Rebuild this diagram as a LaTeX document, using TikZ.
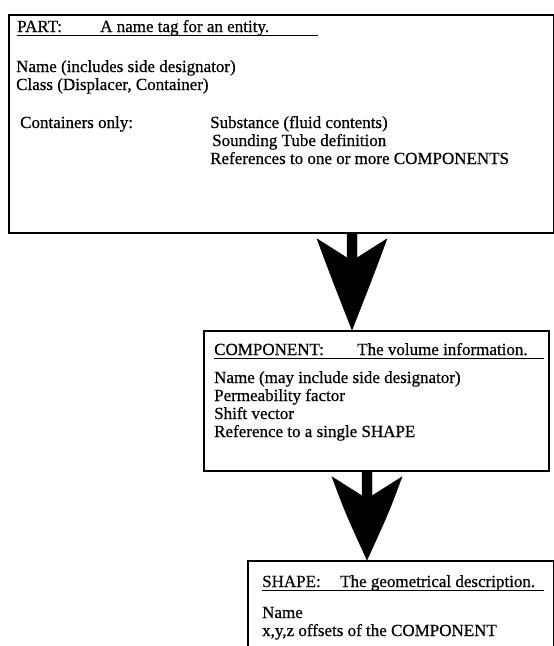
\documentclass[tikz,border=0pt]{standalone}
\usepackage{fontspec}
\setmainfont{Liberation Serif}
\newfontfamily\scanfont[FakeBold=0.6]{Liberation Serif}
\usetikzlibrary{calc}
\tikzset{
  box/.style={draw=black, line width=1.8pt, anchor=north west, inner sep=0pt},
  txt/.style={anchor=base west, inner sep=0pt, font=\scanfont\fontsize{17}{18}\selectfont},
  uline/.style={line width=0.9pt},
  dart/.style={fill=black, draw=black, line width=0.4pt, line join=miter},
}
% big dart-shaped connector: #1 = start on the upper box, #2 = tip on the lower box
\newcommand{\dartarrow}[2]{%
  \fill[dart] let \p1=(#1), \p2=(#2) in
    (\x1-5pt,\y1) -- (\x1-5pt,\y1-24pt) -- (\x1-35pt,\y1-5pt)
    .. controls (\x1-22pt,\y1-40pt) .. (\x2,\y2)
    .. controls (\x1+22pt,\y1-40pt) .. (\x1+35pt,\y1-5pt)
    -- (\x1+5pt,\y1-24pt) -- (\x1+5pt,\y1) -- cycle;}
\begin{document}
\begin{tikzpicture}[x=1pt,y=-1pt]
\useasboundingbox (0,0) rectangle (554,646);

% PART box
\node[box, minimum width=545pt, minimum height=218pt] (part) at (8,14) {};
\node[txt] (parthead) at (17,32) {PART:};
\node[txt] (parttag) at (100,32) {A name tag for an entity.};
\draw[uline] (17,35) -- (318,35);
\node[txt] (pname) at (16,72) {Name (includes side designator)};
\node[txt] (pclass) at (16,90) {Class (Displacer, Container)};
\node[txt] (pcont) at (20,128) {Containers only:};
\node[txt] (psub) at (210,128) {Substance (fluid contents)};
\node[txt] (psound) at (212,146) {Sounding Tube definition};
\node[txt] (pref) at (210,164) {References to one or more COMPONENTS};

% COMPONENT box
\node[box, minimum width=345pt, minimum height=140pt] (comp) at (203,330) {};
\node[txt] (comphead) at (214,355) {COMPONENT:};
\node[txt] (comptag) at (357,355) {The volume information.};
\draw[uline] (214,358) -- (544,358);
\node[txt] (cname) at (214,383) {Name (may include side designator)};
\node[txt] (cperm) at (214,401) {Permeability factor};
\node[txt] (cshift) at (214,419) {Shift vector};
\node[txt] (cref) at (214,437) {Reference to a single SHAPE};

% SHAPE box (runs past the lower edge)
\node[box, minimum width=306pt, minimum height=120pt] (shape) at (247,560) {};
\node[txt] (shapehead) at (262,587) {SHAPE:};
\node[txt] (shapetag) at (340,587) {The geometrical description.};
\draw[uline] (262,590) -- (544,590);
\node[txt] (sname) at (262,618) {Name};
\node[txt] (soff) at (262,636) {x,y,z offsets of the COMPONENT};

% connectors
\coordinate (a1s) at (part.south -| 352,0);
\coordinate (a1e) at (comp.north -| 352,0);
\dartarrow{a1s}{a1e}
\coordinate (a2s) at (comp.south -| 367,0);
\coordinate (a2e) at (shape.north -| 367,0);
\dartarrow{a2s}{a2e}
\end{tikzpicture}
\end{document}
